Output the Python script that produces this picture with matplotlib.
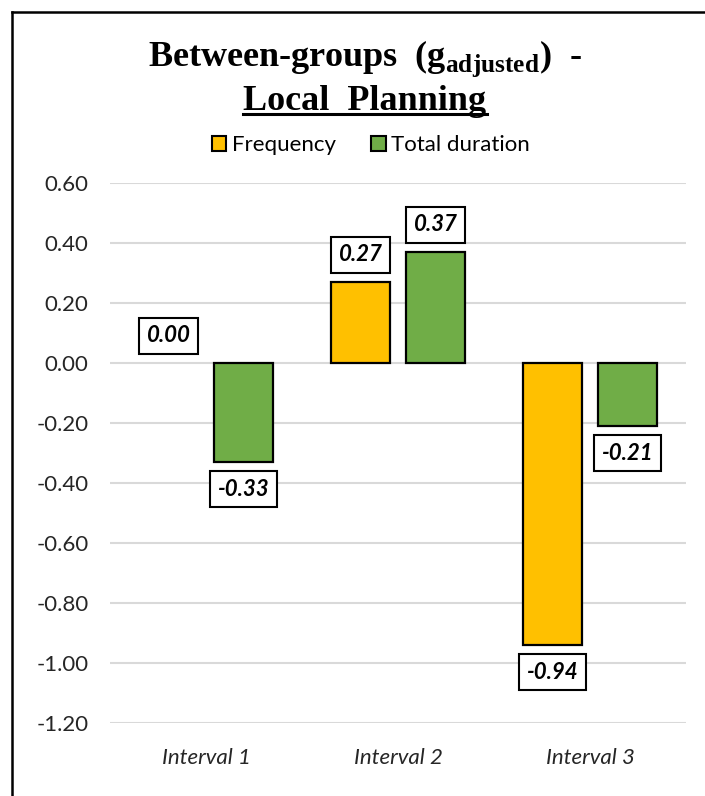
import numpy as np
import matplotlib
matplotlib.use("Agg")
from matplotlib import pyplot as plt
from matplotlib.lines import Line2D
from matplotlib.patches import Patch

# effect sizes per interval
intervals = ["Interval 1", "Interval 2", "Interval 3"]
frequency = [0.00, 0.27, -0.94]
total_duration = [-0.33, 0.37, -0.21]
series_names = ["Frequency", "Total duration"]
yticks = [0.60, 0.40, 0.20, 0.00, -0.20, -0.40, -0.60, -0.80, -1.00, -1.20]

colors = ["#FFC000", "#70AD47"]
sans = "Lato"
serif = "Liberation Serif"

plt.rcParams["mathtext.fontset"] = "custom"
plt.rcParams["mathtext.bf"] = "Liberation Serif:bold"
plt.rcParams["mathtext.rm"] = "Liberation Serif:bold"

fig = plt.figure(figsize=(7.05, 7.96), dpi=100)
ax = fig.add_axes([110 / 705, 1 - 723 / 796, 576 / 705, 540 / 796])

x = np.arange(len(intervals))
width = 0.31
offset = 0.195

for i, (vals, col) in enumerate(zip([frequency, total_duration], colors)):
    xs = x + (-offset if i == 0 else offset)
    lws = [1.6 if v != 0 else 0 for v in vals]
    ax.bar(xs, vals, width, color=col, edgecolor="black", linewidth=lws, zorder=3)
    for xi, v in zip(xs, vals):
        dy = 19.5 if v >= 0 else -19.5
        ax.annotate(f"{v:.2f}", (xi, v), xytext=(0, dy), textcoords="offset points",
                    ha="center", va="center", fontsize=16, fontweight="bold",
                    fontstyle="italic", family=sans, zorder=4,
                    bbox=dict(boxstyle="square,pad=0.33", fc="white", ec="black", lw=1.5))

ax.set_xlim(-0.5, 2.5)
ax.set_ylim(-1.2, 0.6)
ax.set_yticks(yticks)
ax.set_yticklabels([f"{t:.2f}" for t in yticks], family=sans, fontsize=16, color="#262626")
ax.set_xticks(x)
ax.set_xticklabels(intervals, family=sans, fontsize=16, fontstyle="italic", color="#262626")
ax.tick_params(length=0, axis="y", pad=15.5)
ax.tick_params(length=0, axis="x", pad=18)
ax.grid(axis="y", color="#D9D9D9", linewidth=1.5, zorder=0)
for s in ax.spines.values():
    s.set_visible(False)

# title, two lines, second one underlined
tx = 365 / 705
fig.text(tx, 1 - 59 / 796, r"Between-groups  ($\mathbf{g}_{\mathbf{adjusted}}$)  -",
         ha="center", va="center", family=serif, fontweight="bold", fontsize=26)
t2 = fig.text(tx, 1 - 101 / 796, "Local  Planning", ha="center", va="center",
              family=serif, fontweight="bold", fontsize=26)
fig.canvas.draw()
bb = t2.get_window_extent(fig.canvas.get_renderer()).transformed(fig.transFigure.inverted())
fig.add_artist(Line2D([bb.x0, bb.x1], [bb.y0 + 0.004, bb.y0 + 0.004],
                      transform=fig.transFigure, color="black", linewidth=2.2))

handles = [Patch(facecolor=c, edgecolor="black", linewidth=1.5) for c in colors]
fig.legend(handles, series_names, loc="center", bbox_to_anchor=(371 / 705, 1 - 145 / 796),
           ncol=2, frameon=False, prop={"family": sans, "size": 16},
           handlelength=0.65, handleheight=0.65, handletextpad=0.25, columnspacing=1.6)

# frame lines on the left and top
fig.add_artist(Line2D([11.5 / 705, 11.5 / 705], [0, 1 - 11.5 / 796],
                      transform=fig.transFigure, color="black", linewidth=1.8))
fig.add_artist(Line2D([11.5 / 705, 1], [1 - 11.5 / 796, 1 - 11.5 / 796],
                      transform=fig.transFigure, color="black", linewidth=1.8))

fig.savefig("out.png", dpi=100)
